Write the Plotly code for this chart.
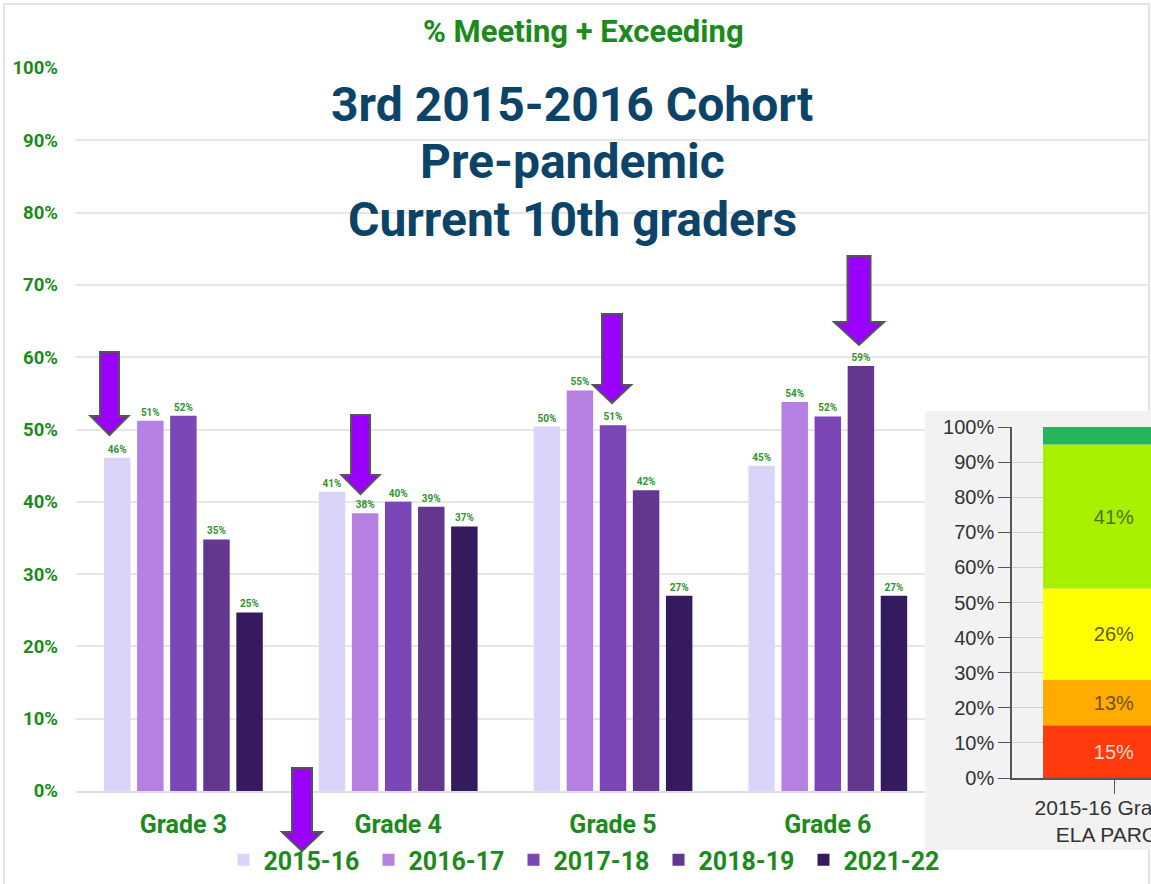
import plotly.graph_objects as go

W, H = 1151, 884

# ---- data -------------------------------------------------------------
grades = ["Grade 3", "Grade 4", "Grade 5", "Grade 6"]
years = ["2015-16", "2016-17", "2017-18", "2018-19", "2021-22"]
v_2015_16 = [46.1, 41.4, 50.4, 45.0]
v_2016_17 = [51.2, 38.4, 55.4, 53.8]
v_2017_18 = [51.9, 40.0, 50.6, 51.8]
v_2018_19 = [34.8, 39.3, 41.6, 58.8]
v_2021_22 = [24.7, 36.6, 27.0, 27.0]
series = [v_2015_16, v_2016_17, v_2017_18, v_2018_19, v_2021_22]

y_ticks = list(range(0, 101, 10))
y_tick_labels = [f"{v}%" for v in y_ticks]

inset_levels = ["Level 1", "Level 2", "Level 3", "Level 4", "Level 5"]
inset_pct = [15, 13, 26, 41, 5]
inset_category = "2015-16 Grade 3<br>ELA PARCC"

title_text = "% Meeting + Exceeding"
overlay_lines = ["3rd 2015-2016 Cohort", "Pre-pandemic", "Current 10th graders"]

# ---- styles -----------------------------------------------------------
bar_colors = ["#dbd4fa", "#b680e2", "#7b46b6", "#633790", "#361a60"]
green = "#1c8a1c"
label_green = "#2f942f"
navy = "#0b4468"
inset_colors = ["#ff3a0c", "#ffab00", "#ffff00", "#a8ef00", "#25b55a"]
inset_text_colors = ["#ffd8c8", "#6e5200", "#5e5e00", "#4a7400", "#25b55a"]
FONT = "Roboto"
ARIAL = "Liberation Sans"


def px(x):
    return x / W


def py(y):
    return 1 - y / H


fig = go.Figure()

# main grouped bars
for name, vals, col in zip(years, series, bar_colors):
    fig.add_trace(go.Bar(
        x=list(range(len(grades))), y=vals, name=name,
        marker=dict(color=col, line=dict(width=0)),
        texttemplate="%{y:.0f}%", textposition="outside",
        textfont=dict(family=FONT, size=10, color=label_green, weight="bold"),
        cliponaxis=False, xaxis="x", yaxis="y",
    ))

# grey backdrop of the pasted inset (subplot drawn above the main one)
fig.add_trace(go.Scatter(
    x=[0, 1, 1, 0, 0], y=[0, 0, 1, 1, 0], fill="toself", mode="lines",
    fillcolor="#f2f2f2", line=dict(width=0), showlegend=False,
    hoverinfo="skip", xaxis="x2", yaxis="y2",
))

# inset stacked bar
cum = 0
for lvl, v, col, tcol in zip(inset_levels, inset_pct, inset_colors, inset_text_colors):
    fig.add_trace(go.Bar(
        x=[0], y=[v], base=[cum], width=1, offset=-0.5, name=lvl,
        marker=dict(color=col, line=dict(width=0)),
        text=[f"{v}%" if v >= 10 else ""], textposition="inside",
        insidetextanchor="middle", constraintext="none",
        textfont=dict(family=ARIAL, size=20, color=tcol),
        showlegend=False, xaxis="x3", yaxis="y3",
    ))
    cum += v

# ---- shapes: frame + arrows ------------------------------------------
shapes = [dict(type="rect", xref="paper", yref="paper",
               x0=px(4), x1=px(1149), y0=py(900), y1=py(4),
               line=dict(color="#e2e2e2", width=2), layer="below")]

arrows = [  # (centre x, shaft top, head base, tip, shaft half-width, head half-width)
    (109.5, 352, 416, 435, 9.5, 19),
    (360.5, 415, 475, 494, 9.5, 19),
    (612, 314, 385, 403, 10, 19),
    (859, 256, 322, 345, 11.5, 25),
    (302, 768, 832, 851, 10, 20),
]
for xc, top, hb, tip, sw, hw in arrows:
    pts = [(xc - sw, top), (xc + sw, top), (xc + sw, hb), (xc + hw, hb),
           (xc, tip), (xc - hw, hb), (xc - sw, hb)]
    path = "M " + " L ".join(f"{px(a):.5f},{py(b):.5f}" for a, b in pts) + " Z"
    shapes.append(dict(type="path", xref="paper", yref="paper", path=path,
                       fillcolor="#9900ff", line=dict(color="#555555", width=2),
                       layer="above"))

annotations = [dict(text=title_text, x=px(583), y=py(32), xref="paper", yref="paper",
                    showarrow=False, xanchor="center", yanchor="middle",
                    font=dict(family=FONT, size=31, color=green, weight="bold"))]
for line, yc in zip(overlay_lines, [104, 161, 219]):
    annotations.append(dict(text=line, x=px(572), y=py(yc), xref="paper", yref="paper",
                            showarrow=False, xanchor="center", yanchor="middle",
                            font=dict(family=FONT, size=48, color=navy, weight="bold")))

fig.update_layout(
    width=W, height=H,
    margin=dict(l=0, r=0, t=0, b=0),
    paper_bgcolor="white", plot_bgcolor="rgba(0,0,0,0)",
    barmode="group", bargap=0.23, bargroupgap=0.2,
    showlegend=True,
    legend=dict(orientation="h", x=px(586), xanchor="center", y=py(860), yanchor="middle",
                font=dict(family=FONT, size=25, color=green, weight="bold"),
                entrywidth=100, entrywidthmode="pixels",
                bgcolor="rgba(0,0,0,0)", itemclick=False, traceorder="normal"),
    xaxis=dict(domain=[px(76), px(1150)], range=[-0.5, 4.5], type="linear", anchor="y",
               tickvals=list(range(len(grades))), ticktext=grades,
               showgrid=False, zeroline=False, showline=True, linecolor="#e0e0e0", linewidth=2,
               ticks="", ticklabelstandoff=10, automargin=False,
               tickfont=dict(family=FONT, size=25, color=green, weight="bold")),
    yaxis=dict(domain=[py(791), py(68)], range=[0, 100], anchor="x",
               tickmode="array", tickvals=y_ticks, ticktext=y_tick_labels,
               showgrid=True, gridcolor="#e6e6e6", gridwidth=1.5, zeroline=False,
               showline=False, ticks="", ticklabelstandoff=17, automargin=False,
               tickfont=dict(family=FONT, size=18.5, color=green, weight="bold")),
    xaxis2=dict(domain=[px(925), 1], range=[0, 1], anchor="y2", visible=False, fixedrange=True),
    yaxis2=dict(domain=[py(850), py(411)], range=[0, 1], anchor="x2", visible=False,
                fixedrange=True),
    xaxis3=dict(domain=[px(1012), 1], range=[-0.7183, 0.2606], type="linear", anchor="y3",
                tickmode="array", tickvals=[0], ticktext=[inset_category],
                ticklabeloverflow="allow",
                showgrid=False, zeroline=False,
                showline=True, linecolor="#555555", linewidth=1.5,
                ticks="outside", ticklen=14, tickcolor="#555555", automargin=False,
                ticklabelstandoff=-4,
                tickfont=dict(family=ARIAL, size=21, color="#333333")),
    yaxis3=dict(domain=[py(778), py(427)], range=[0, 100], anchor="x3",
                tickmode="array", tickvals=y_ticks, ticktext=y_tick_labels,
                showgrid=True, gridcolor="#cfcfcf", zeroline=False,
                showline=True, linecolor="#555555", linewidth=1.5,
                ticks="outside", ticklen=12, tickcolor="#555555", automargin=False,
                tickfont=dict(family=ARIAL, size=20, color="#333333")),
    shapes=shapes,
    annotations=annotations,
)

fig.write_html("out.html", config={"displayModeBar": False},
               post_script="document.body.style.margin='0';")
